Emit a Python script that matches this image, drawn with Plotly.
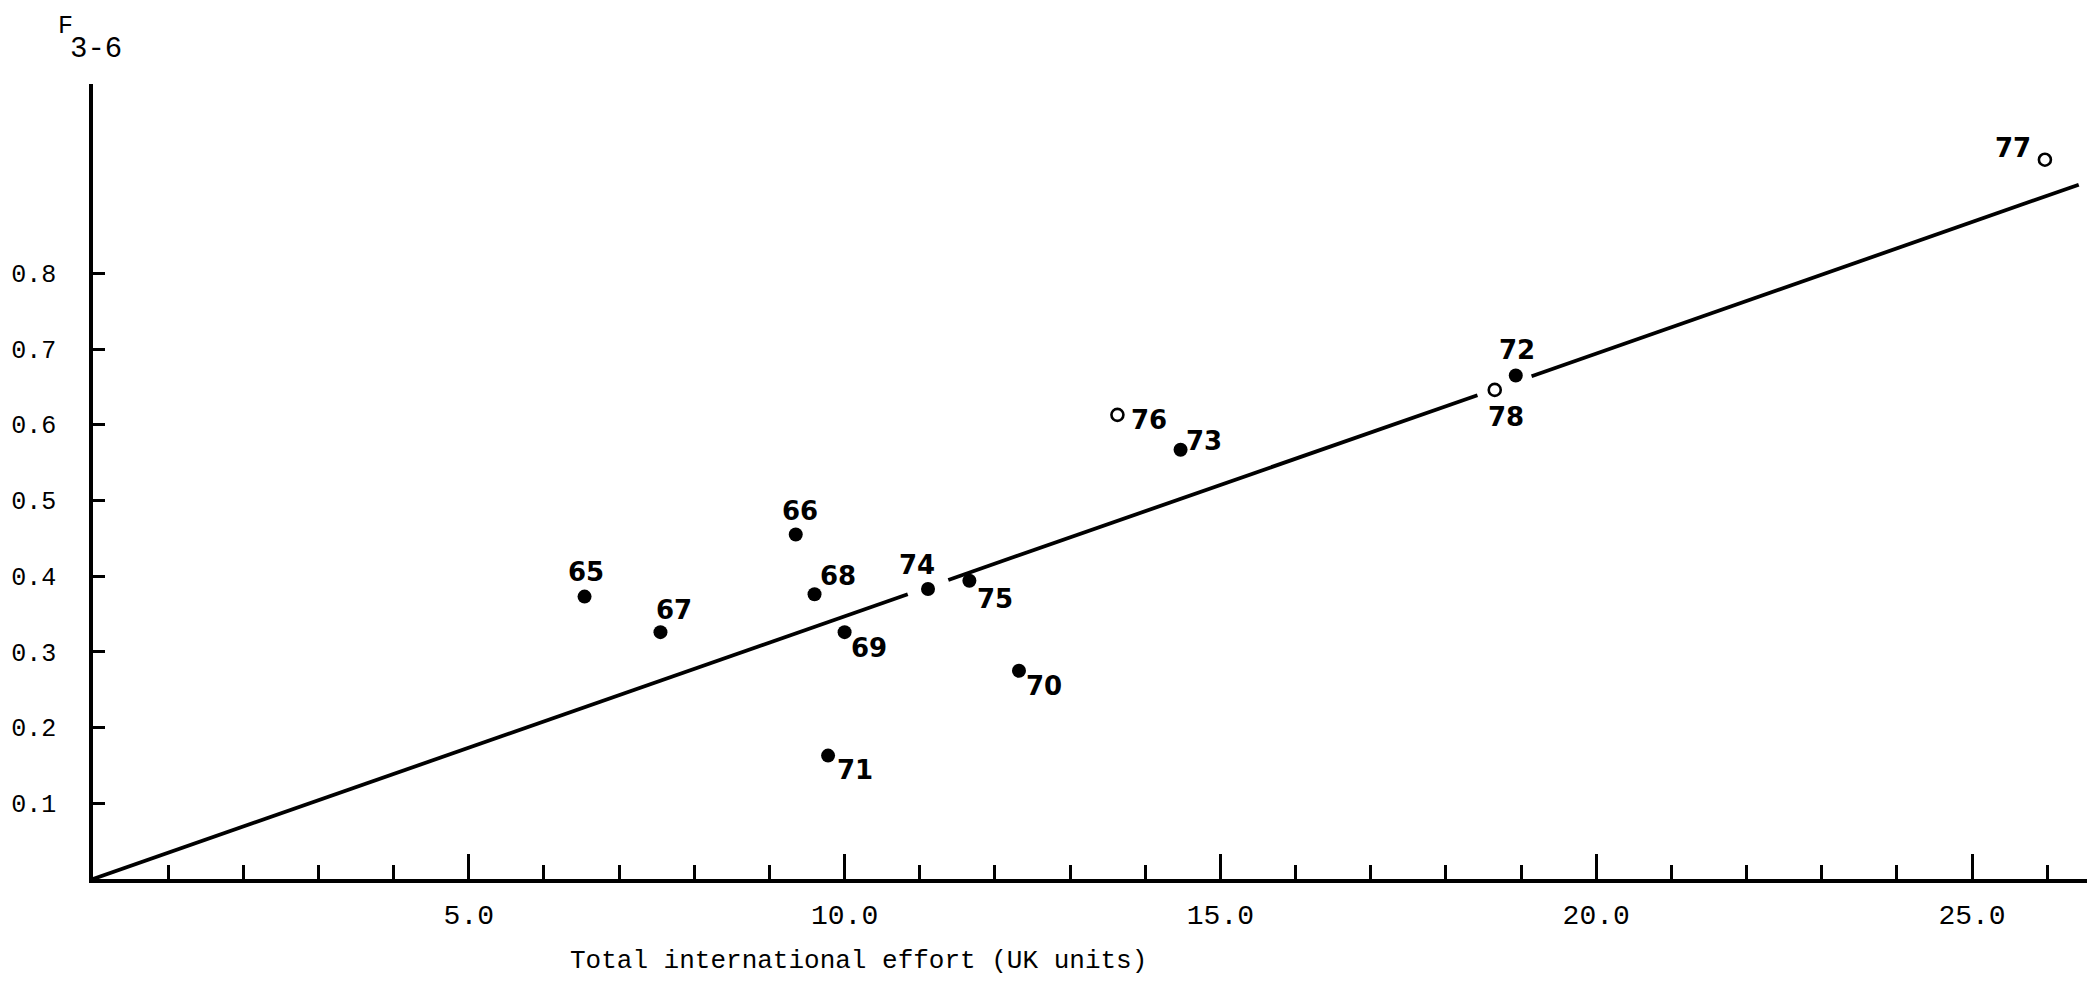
import plotly.graph_objects as go

# Data
years = ["65", "66", "67", "68", "69", "70", "71", "72", "73", "74", "75"]
effort = [6.54, 9.35, 7.55, 9.60, 10.00, 12.32, 9.78, 18.93, 14.47, 11.11, 11.66]
f36 = [0.373, 0.455, 0.326, 0.376, 0.326, 0.275, 0.163, 0.665, 0.567, 0.383, 0.394]

years_open = ["76", "77", "78"]
effort_open = [13.63, 25.97, 18.65]
f36_open = [0.613, 0.950, 0.646]

# Fitted line (drawn broken around labels)
line_x = [0, 10.84, None, 11.38, 18.42, None, 19.14, 26.42]
line_y = [0, 0.376, None, 0.395, 0.639, None, 0.664, 0.917]

x_tickvals = [5, 10, 15, 20, 25]
x_ticktext = ["5.0", "10.0", "15.0", "20.0", "25.0"]
y_tickvals = [0.1, 0.2, 0.3, 0.4, 0.5, 0.6, 0.7, 0.8]
y_ticktext = ["0.1", "0.2", "0.3", "0.4", "0.5", "0.6", "0.7", "0.8"]

# Label offsets (pixels) for each year label relative to its point
label_offsets = {
    "65": (1, 25), "66": (4, 24), "67": (14, 22), "68": (23, 18),
    "69": (24, -16), "70": (25, -15), "71": (27, -14), "72": (1, 26),
    "73": (23, 9), "74": (-11, 24), "75": (26, -18),
    "76": (32, -5), "77": (-32, 12), "78": (11, -27),
}

TYPE = "Liberation Mono"
LETTER = "DejaVu Sans"

fig = go.Figure()
fig.add_trace(go.Scatter(x=line_x, y=line_y, mode="lines",
                         line=dict(color="black", width=3.8),
                         hoverinfo="skip", showlegend=False))
fig.add_trace(go.Scatter(x=effort, y=f36, mode="markers",
                         marker=dict(color="black", size=14),
                         showlegend=False))
fig.add_trace(go.Scatter(x=effort_open, y=f36_open, mode="markers",
                         marker=dict(color="white", size=12,
                                     line=dict(color="black", width=2.6)),
                         showlegend=False))

all_pts = list(zip(years, effort, f36)) + list(zip(years_open, effort_open, f36_open))
for yr, xv, yv in all_pts:
    dx, dy = label_offsets[yr]
    fig.add_annotation(x=xv, y=yv, text=yr, showarrow=False,
                       xshift=dx, yshift=dy, xanchor="center", yanchor="middle",
                       font=dict(family=LETTER, size=26, color="black", weight="bold"))

# Axis title
fig.add_annotation(xref="paper", yref="paper", x=0.384, y=0, yshift=-82,
                   xanchor="center", yanchor="middle",
                   text="Total international effort (UK units)", showarrow=False,
                   font=dict(family=TYPE, size=26, color="black"))
# Y label F_{3-6}
fig.add_annotation(xref="x", yref="paper", x=0, y=1, xshift=-28, yshift=58,
                   xanchor="center", yanchor="middle",
                   text="F", showarrow=False,
                   font=dict(family=TYPE, size=25, color="black"))
fig.add_annotation(xref="x", yref="paper", x=0, y=1, xshift=3, yshift=35,
                   xanchor="center", yanchor="middle",
                   text="3-6", showarrow=False,
                   font=dict(family=TYPE, size=29, color="black"))

fig.update_layout(
    width=2088, height=987,
    margin=dict(l=93, r=1, t=84, b=108),
    paper_bgcolor="white", plot_bgcolor="white",
    showlegend=False,
)
fig.update_xaxes(
    range=[0, 26.53], showgrid=False, zeroline=False,
    showline=True, linecolor="black", linewidth=3.5,
    tickmode="array", tickvals=x_tickvals, ticktext=x_ticktext,
    ticks="inside", ticklen=25, tickwidth=2.5, tickcolor="black",
    ticklabelstandoff=8,
    tickfont=dict(family=TYPE, size=28, color="black"),
    minor=dict(dtick=1, tick0=0, ticks="inside", ticklen=14, tickwidth=2.5,
               tickcolor="black", showgrid=False),
)
fig.update_yaxes(
    range=[0, 1.05], showgrid=False, zeroline=False,
    showline=True, linecolor="black", linewidth=3.5,
    tickmode="array", tickvals=y_tickvals, ticktext=y_ticktext,
    ticks="inside", ticklen=12, tickwidth=2.5, tickcolor="black",
    ticklabelstandoff=28,
    tickfont=dict(family=TYPE, size=25, color="black"),
)

fig.write_html("out.html")
